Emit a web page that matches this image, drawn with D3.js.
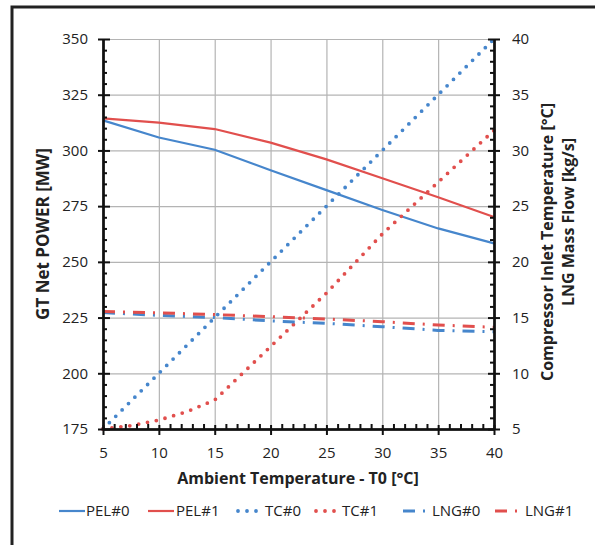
<!DOCTYPE html>
<html>
<head>
<meta charset="utf-8">
<script src="https://cdn.jsdelivr.net/npm/d3@7"></script>
<style>
  html, body { margin: 0; background: #fff; overflow: hidden; }
  svg { display: block; }
  text { font-family: 'Open Sans', 'Noto Sans', sans-serif; fill: #222; }
  .grid line { stroke: #b4b4b4; stroke-width: 1.2; }
  .grid path { display: none; }
  .axis path, .axis line { stroke: #111; stroke-width: 2; }
  .axis text { font-size: 15px; }
  .title { font-size: 16px; font-weight: bold; }
  .legend text { font-size: 15px; }
</style>
</head>
<body>
<svg id="chart" width="595" height="545"></svg>
<script>
// Ambient temperature T0 [°C]
const t0 = [5, 10, 15, 20, 25, 30, 35, 40];

// GT net power [MW] (left axis)
const pel0 = [313.5, 305.8, 300.3, 291.1, 282.2, 273.3, 265.0, 258.3];
const pel1 = [314.4, 312.5, 309.6, 303.5, 296.0, 287.5, 279.0, 270.1];

// Compressor inlet temperature [°C] (right axis)
const tc0 = [5, 10, 15, 20, 25, 30, 35, 40];
const tc1T0 = [5, 7.5, 10, 12.5, 15, 20, 25, 30, 35, 40];
const tc1 = [5.0, 5.3, 5.8, 6.55, 7.6, 12.4, 17.2, 22.5, 27.15, 31.8];

// LNG mass flow [kg/s] (right axis)
const lng0 = [15.45, 15.2, 15.0, 14.7, 14.48, 14.18, 13.85, 13.73];
const lng1 = [15.55, 15.42, 15.27, 15.08, 14.87, 14.63, 14.33, 14.13];

const xTicks = [5, 10, 15, 20, 25, 30, 35, 40];
const leftTicks = [175, 200, 225, 250, 275, 300, 325, 350];
const rightTicks = [5, 10, 15, 20, 25, 30, 35, 40];
const legendLabels = ['PEL#0', 'PEL#1', 'TC#0', 'TC#1', 'LNG#0', 'LNG#1'];

const blue = '#4686cc';
const red = '#e14f4d';

const margin = { left: 103, top: 39 };
const width = 391;
const height = 390;

const svg = d3.select('#chart');

// outer frame (runs past right and bottom edge)
svg.append('rect')
  .attr('x', 12)
  .attr('y', 7)
  .attr('width', 640)
  .attr('height', 600)
  .attr('fill', 'none')
  .attr('stroke', '#222')
  .attr('stroke-width', 3);

const g = svg.append('g')
  .attr('transform', `translate(${margin.left},${margin.top})`);

const x = d3.scaleLinear().domain([5, 40]).range([0, width]);
const yL = d3.scaleLinear().domain([175, 350]).range([height, 0]);
const yR = d3.scaleLinear().domain([5, 40]).range([height, 0]);

// Grid
g.append('g')
  .attr('class', 'grid')
  .call(d3.axisLeft(yL).tickValues(leftTicks).tickSize(-width).tickFormat(''));
g.append('g')
  .attr('class', 'grid')
  .attr('transform', `translate(0,${height})`)
  .call(d3.axisBottom(x).tickValues(xTicks).tickSize(-height).tickFormat(''));

// Series
const seriesList = [
  { xs: t0, ys: pel0, y: yL, color: blue, width: 2.2, dash: null, cap: 'butt' },
  { xs: t0, ys: pel1, y: yL, color: red, width: 2.2, dash: null, cap: 'butt' },
  { xs: t0, ys: tc0, y: yR, color: blue, width: 3.8, dash: '0 9', cap: 'round' },
  { xs: tc1T0, ys: tc1, y: yR, color: red, width: 3.8, dash: '0 9', cap: 'round' },
  { xs: t0, ys: lng0, y: yR, color: blue, width: 3, dash: '12 8 2 8', cap: 'butt' },
  { xs: t0, ys: lng1, y: yR, color: red, width: 3, dash: '12 8 2 8', cap: 'butt' }
];

seriesList.forEach(s => {
  const pts = s.xs.map((v, i) => [v, s.ys[i]]);
  const line = d3.line()
    .x(d => x(d[0]))
    .y(d => s.y(d[1]));
  g.append('path')
    .datum(pts)
    .attr('d', line)
    .attr('fill', 'none')
    .attr('stroke', s.color)
    .attr('stroke-width', s.width)
    .attr('stroke-linecap', s.cap)
    .attr('stroke-dasharray', s.dash);
});

// Axes
const minorX = d3.range(5, 40.01, 1).filter(v => v % 5 !== 0);
const minorL = d3.range(175, 350.01, 5).filter(v => v % 25 !== 0);
const minorR = d3.range(5, 40.01, 1).filter(v => v % 5 !== 0);

// left
g.append('g').attr('class', 'axis')
  .call(d3.axisLeft(yL).tickValues(leftTicks).tickSize(5).tickSizeOuter(0).tickPadding(10));
g.append('g').attr('class', 'axis')
  .call(d3.axisRight(yL).tickValues(leftTicks).tickSize(7).tickSizeOuter(0).tickFormat(''));
g.append('g').attr('class', 'axis')
  .call(d3.axisRight(yL).tickValues(minorL).tickSize(4).tickSizeOuter(0).tickFormat(''));

// right
g.append('g').attr('class', 'axis')
  .attr('transform', `translate(${width},0)`)
  .call(d3.axisRight(yR).tickValues(rightTicks).tickSize(6).tickSizeOuter(0).tickPadding(12));
g.append('g').attr('class', 'axis')
  .attr('transform', `translate(${width},0)`)
  .call(d3.axisLeft(yR).tickValues(rightTicks).tickSize(6).tickSizeOuter(0).tickFormat(''));
g.append('g').attr('class', 'axis')
  .attr('transform', `translate(${width},0)`)
  .call(d3.axisLeft(yR).tickValues(minorR).tickSize(4).tickSizeOuter(0).tickFormat(''));

// bottom
g.append('g').attr('class', 'axis')
  .attr('transform', `translate(0,${height})`)
  .call(d3.axisBottom(x).tickValues(xTicks).tickSize(6).tickSizeOuter(0).tickPadding(12));
g.append('g').attr('class', 'axis')
  .attr('transform', `translate(0,${height})`)
  .call(d3.axisTop(x).tickValues(xTicks).tickSize(4).tickSizeOuter(0).tickFormat(''));
g.append('g').attr('class', 'axis')
  .attr('transform', `translate(0,${height})`)
  .call(d3.axisTop(x).tickValues(minorX).tickSize(5).tickSizeOuter(0).tickFormat(''));

// Titles
svg.append('text')
  .attr('class', 'title')
  .attr('x', 298)
  .attr('y', 484)
  .attr('text-anchor', 'middle')
  .text('Ambient Temperature - T0 [°C]');

svg.append('text')
  .attr('class', 'title')
  .style('font-size', '17px')
  .attr('transform', 'translate(49,234) rotate(-90)')
  .attr('text-anchor', 'middle')
  .text('GT Net POWER [MW]');

svg.append('text')
  .attr('class', 'title')
  .attr('transform', 'translate(553,242) rotate(-90)')
  .attr('text-anchor', 'middle')
  .text('Compressor Inlet Temperature [°C]');

svg.append('text')
  .attr('class', 'title')
  .attr('transform', 'translate(574,222) rotate(-90)')
  .attr('text-anchor', 'middle')
  .text('LNG Mass Flow [kg/s]');

// Legend
const legendX = [59, 148, 238, 316, 403, 495];
const legendTextX = [86, 176, 265, 342, 432, 525];
const legend = svg.append('g').attr('class', 'legend');

seriesList.forEach((s, i) => {
  const len = s.dash === '0 9' ? 20 : (s.dash ? 24 : 26);
  legend.append('line')
    .attr('x1', legendX[i])
    .attr('x2', legendX[i] + len)
    .attr('y1', 511)
    .attr('y2', 511)
    .attr('stroke', s.color)
    .attr('stroke-width', s.width)
    .attr('stroke-linecap', s.cap)
    .attr('stroke-dasharray', s.dash);
  legend.append('text')
    .attr('x', legendTextX[i])
    .attr('y', 516)
    .text(legendLabels[i]);
});
</script>
</body>
</html>
